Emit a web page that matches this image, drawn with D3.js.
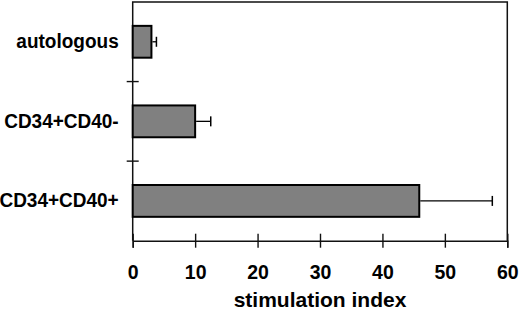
<!DOCTYPE html>
<html>
<head>
<meta charset="utf-8">
<script src="https://cdn.jsdelivr.net/npm/d3@7"></script>
<style>
  body { margin: 0; background: #fff; }
  text { font-family: "Liberation Sans", Arial, sans-serif; font-weight: bold; fill: #000; }
</style>
</head>
<body>
<svg id="chart" width="520" height="316"></svg>
<script>
// data
var categories = ["autologous", "CD34+CD40-", "CD34+CD40+"];
var values = [3.0, 10.0, 45.9];
var errors = [0.8, 2.5, 11.7];
var xTicks = [0, 10, 20, 30, 40, 50, 60];
var xTitle = "stimulation index";

var margin = { top: 2, right: 12.7, bottom: 75.3, left: 132.7 };
var width = 520 - margin.left - margin.right,
    height = 316 - margin.top - margin.bottom;
var stretch = 1.08;   // the original lettering is a bit taller than Arial

var svg = d3.select("#chart");
var g = svg.append("g")
    .attr("transform", `translate(${margin.left},${margin.top})`);

var xScale = d3.scaleLinear()
    .domain([0, 60])
    .range([0, width]);

var yScale = d3.scaleBand()
    .domain(categories)
    .range([0, height])
    .paddingInner(0.6)
    .paddingOuter(0.3);

var rows = categories.map(function (c, i) {
    return { cat: c, value: values[i], err: errors[i] };
});

// frame: left, top, right as one path
var frame = d3.path();
frame.moveTo(xScale(0), height);
frame.lineTo(xScale(0), 0);
frame.lineTo(xScale(60), 0);
frame.lineTo(xScale(60), height);
g.append("path")
    .attr("class", "frame")
    .attr("d", frame.toString())
    .attr("fill", "none")
    .attr("stroke", "#111")
    .attr("stroke-width", 1.5);

// separators between categories on the left axis
var step = yScale.step();
var seps = categories.slice(1).map(function (c) {
    return yScale(c) - step * yScale.paddingInner() / 2;
});
g.selectAll(".sep")
    .data(seps)
  .enter().append("line")
    .attr("class", "sep")
    .attr("x1", -6).attr("x2", 6)
    .attr("y1", function (d) { return d; })
    .attr("y2", function (d) { return d; })
    .attr("stroke", "#111").attr("stroke-width", 1.4);

// bottom axis
var axisBottom = d3.axisBottom(xScale)
    .tickValues(xTicks)
    .tickFormat(d3.format("d"))
    .tickSizeOuter(0)
    .tickSize(7)
    .tickPadding(14.5);

var gx = g.append("g")
    .attr("class", "axis axis-bottom")
    .attr("transform", `translate(0, ${height})`)
    .call(axisBottom);
gx.select(".domain").attr("stroke", "#111").attr("stroke-width", 1.4);
gx.selectAll(".tick line").attr("y1", -7).attr("stroke", "#111").attr("stroke-width", 1.4);
gx.selectAll(".tick text")
    .style("font-size", "19.5px")
    .attr("transform", `scale(1,${stretch})`);

// left axis (labels only)
var axisLeft = d3.axisLeft(yScale)
    .tickSize(0)
    .tickPadding(14);

var gy = g.append("g")
    .attr("class", "axis axis-left")
    .call(axisLeft);
gy.select(".domain").remove();
gy.selectAll(".tick text")
    .style("font-size", "19px")
    .attr("transform", `scale(1,${stretch})`);

// bars
g.selectAll(".bar")
    .data(rows)
  .enter().append("rect")
    .attr("class", "bar")
    .attr("x", xScale(0))
    .attr("y", function (d) { return yScale(d.cat); })
    .attr("width", function (d) { return xScale(d.value) - xScale(0); })
    .attr("height", yScale.bandwidth())
    .attr("fill", "#808080")
    .attr("stroke", "#000")
    .attr("stroke-width", 2);

// error bars
var eb = g.selectAll(".err")
    .data(rows)
  .enter().append("g")
    .attr("class", "err");
eb.append("line")
    .attr("x1", function (d) { return xScale(d.value) + 1; })
    .attr("x2", function (d) { return xScale(d.value + d.err); })
    .attr("y1", function (d) { return yScale(d.cat) + yScale.bandwidth() / 2; })
    .attr("y2", function (d) { return yScale(d.cat) + yScale.bandwidth() / 2; })
    .attr("stroke", "#000").attr("stroke-width", 1.3);
eb.append("line")
    .attr("x1", function (d) { return xScale(d.value + d.err); })
    .attr("x2", function (d) { return xScale(d.value + d.err); })
    .attr("y1", function (d) { return yScale(d.cat) + yScale.bandwidth() / 2 - 5; })
    .attr("y2", function (d) { return yScale(d.cat) + yScale.bandwidth() / 2 + 5; })
    .attr("stroke", "#000").attr("stroke-width", 1.5);

// axis title
g.append("text")
    .attr("x", width / 2)
    .attr("y", height + 65.8)
    .attr("text-anchor", "middle")
    .style("font-size", "21px")
    .text(xTitle);
</script>
</body>
</html>
